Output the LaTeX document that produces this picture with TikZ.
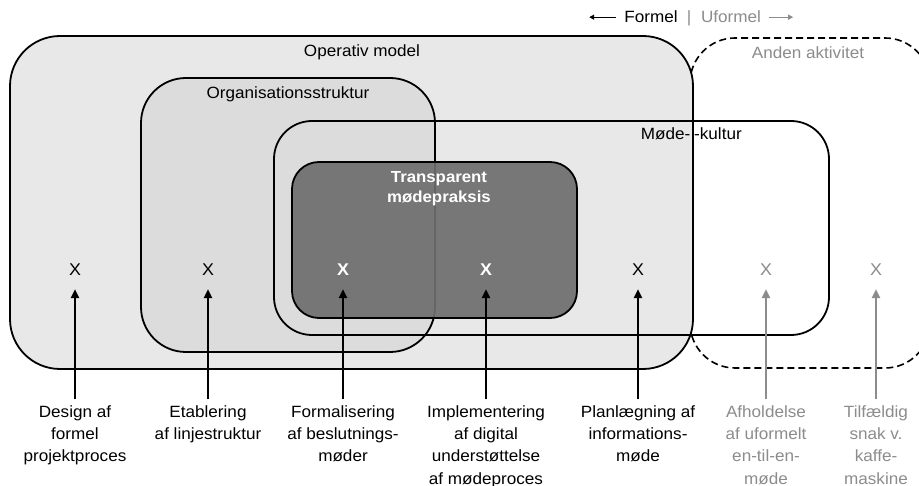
\documentclass[tikz,border=0pt]{standalone}
\usepackage{fontspec}
\setmainfont{Liberation Sans}[FakeStretch=1.05]
\usetikzlibrary{arrows.meta}
\definecolor{opfill}{HTML}{E8E8E8}
\definecolor{orgfill}{HTML}{DCDCDC}
\definecolor{darkfill}{HTML}{6E6E6E}
\definecolor{softgray}{HTML}{8C8C8C}
\begin{document}
\begin{tikzpicture}[x=1pt,y=-1pt,
  box/.style={draw=black, line width=1.8pt, rounded corners=#1},
  lbl/.style={font=\fontsize{16.3}{22.2}\selectfont, align=center, anchor=north, inner sep=0pt},
  ttl/.style={font=\fontsize{16.3}{22.2}\selectfont, anchor=base, inner sep=0pt},
  xm/.style={font=\fontsize{17}{20}\selectfont, anchor=base, inner sep=0pt},
  up/.style={-{Triangle[length=9pt,width=8pt]}, line width=2.4pt, shorten >=13pt, shorten <=6pt},
  upgray/.style={up, draw=softgray},
  thinarrow/.style={-{Triangle[length=5pt,width=5pt]}, line width=1.2pt},
]
\useasboundingbox (0,0) rectangle (919,486);
\fill[white] (0,0) rectangle (919,486);

% Anden aktivitet (dashed, partly off the page)
\begin{scope}
\clip (0,0) rectangle (919,486);
\draw[line width=1.6pt, dash pattern=on 7pt off 4pt, rounded corners=45] (690,38) rectangle (930,368);
\end{scope}

% Operativ model
\draw[box=50, fill=opfill] (10,36) rectangle (693,369);
% Organisationsstruktur
\draw[box=45, fill=orgfill] (141,78) rectangle (435,352);
% Moede-kultur
\draw[box=38] (274,121) rectangle (829,335);
% Transparent moedepraksis
\draw[box=27, fill=darkfill, fill opacity=0.92] (292,162) rectangle (577,318);

% titles
\node[ttl] (tOp) at (362,57) {Operativ model};
\node[ttl] (tOrg) at (288,99) {Organisationsstruktur};
\node[ttl, anchor=base east] (tMa) at (690.5,140) {Møde-};
\node[ttl, anchor=base west] (tMb) at (694,140) {-kultur};
\node[ttl, text=softgray] (tAnd) at (808,59) {Anden aktivitet};
\node[lbl, text=white, font=\fontsize{16}{20.5}\selectfont\bfseries] (tTr) at (439,171) {Transparent\\mødepraksis};

% Formel | Uformel
\node[ttl] (fm) at (651,23) {Formel};
\node[ttl, text=softgray] (bar) at (689,23) {|};
\node[ttl, text=softgray] (uf) at (731,23) {Uformel};
\draw[thinarrow] ([xshift=-8pt]fm.west) -- ([xshift=-35pt]fm.west);
\draw[thinarrow, draw=softgray] ([xshift=8pt]uf.east) -- ([xshift=32pt]uf.east);

% X marks
\node[xm] (x1) at (75,276) {X};
\node[xm] (x2) at (208,276) {X};
\node[xm, text=white, font=\fontsize{17}{20}\selectfont\bfseries] (x3) at (343,276) {X};
\node[xm, text=white, font=\fontsize{17}{20}\selectfont\bfseries] (x4) at (486,276) {X};
\node[xm] (x5) at (638,276) {X};
\node[xm, text=softgray] (x6) at (766,276) {X};
\node[xm, text=softgray] (x7) at (876,276) {X};

% labels
\node[lbl] (l1) at (75,405.5) {Design af\\formel\\projektproces};
\node[lbl] (l2) at (208,405.5) {Etablering\\af linjestruktur};
\node[lbl] (l3) at (343,405.5) {Formalisering\\af beslutnings-\\møder};
\node[lbl] (l4) at (486,405.5) {Implementering\\af digital\\understøttelse\\af mødeproces};
\node[lbl] (l5) at (638,405.5) {Planlægning af\\informations-\\møde};
\node[lbl, text=softgray] (l6) at (766,405.5) {Afholdelse\\af uformelt\\en-til-en-\\møde};
\node[lbl, text=softgray] (l7) at (876,405.5) {Tilfældig\\snak v.\\kaffe-\\maskine};

% arrows
\draw[up] (l1.north) -- (x1.south);
\draw[up] (l2.north) -- (x2.south);
\draw[up] (l3.north) -- (x3.south);
\draw[up] (l4.north) -- (x4.south);
\draw[up] (l5.north) -- (x5.south);
\draw[upgray] (l6.north) -- (x6.south);
\draw[upgray] (l7.north) -- (x7.south);
\end{tikzpicture}
\end{document}
